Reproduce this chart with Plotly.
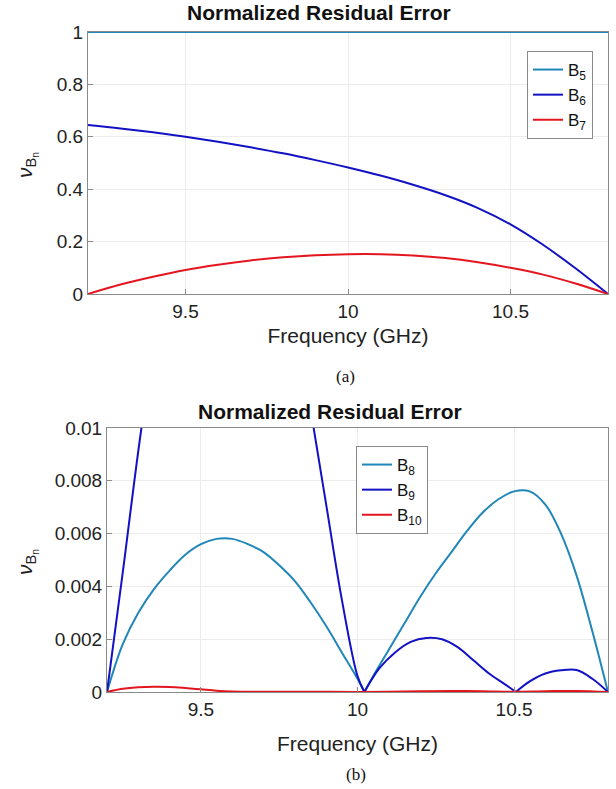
import plotly.graph_objects as go

# ---- data ----
# (a) top panel
freq_a = [9.2, 9.3, 9.4, 9.5, 9.6, 9.7, 9.8, 9.9, 10.0, 10.1, 10.2, 10.3, 10.4, 10.5, 10.6, 10.7, 10.8]
b5 = [1.0] * len(freq_a)
b6 = [0.645, 0.632, 0.617, 0.600, 0.581, 0.560, 0.537, 0.511, 0.483, 0.452, 0.417, 0.377, 0.328, 0.266, 0.188, 0.098, 0.0]
b7 = [0.0, 0.036, 0.066, 0.092, 0.112, 0.128, 0.140, 0.148, 0.152, 0.152, 0.147, 0.137, 0.121, 0.100, 0.074, 0.040, 0.0]

# (b) bottom panel
freq_b8 = [9.2, 9.25, 9.3, 9.35, 9.4, 9.45, 9.5, 9.55, 9.6, 9.65, 9.7, 9.75, 9.8, 9.85, 9.9, 9.95, 10.0, 10.022,
           10.05, 10.1, 10.15, 10.2, 10.25, 10.3, 10.35, 10.4, 10.45, 10.5, 10.55, 10.6, 10.65, 10.7, 10.75, 10.8]
b8 = [0.0, 0.0018, 0.0030, 0.0039, 0.0046, 0.0052, 0.0056, 0.0058, 0.0058, 0.0056, 0.0053, 0.0048, 0.0042, 0.0034, 0.0025, 0.0015, 0.0005, 0.0,
      0.0006, 0.0016, 0.0026, 0.0036, 0.0045, 0.0053, 0.0061, 0.0068, 0.0073, 0.0076, 0.0076, 0.0071, 0.0060, 0.0044, 0.0023, 0.0]

freq_b9 = [9.2, 9.25, 9.31, 9.4, 9.5, 9.6, 9.7, 9.8, 9.86, 9.9, 9.95, 10.0, 10.022,
           10.07, 10.12, 10.17, 10.22, 10.27, 10.32, 10.37, 10.42, 10.47, 10.506,
           10.55, 10.6, 10.65, 10.7, 10.75, 10.8]
b9 = [0.0, 0.0045, 0.0100, 0.0170, 0.0220, 0.0230, 0.0205, 0.0145, 0.0100, 0.0071, 0.0035, 0.0006, 0.0,
      0.0009, 0.0015, 0.0019, 0.00205, 0.0020, 0.0017, 0.0012, 0.0007, 0.0003, 0.0,
      0.0004, 0.0007, 0.00082, 0.00083, 0.0005, 0.0]

freq_b10 = [9.2, 9.25, 9.3, 9.35, 9.4, 9.45, 9.5, 9.55, 9.6, 9.7, 9.8, 9.9, 10.0, 10.1, 10.2, 10.3, 10.4, 10.5, 10.6, 10.7, 10.8]
b10 = [0.0, 0.00012, 0.00018, 0.0002, 0.00019, 0.00015, 0.0001, 0.00005, 0.00002, 0.00001, 0.00001, 0.00001, 0.0,
       0.00001, 0.00003, 0.00004, 0.00003, 0.00001, 0.00003, 0.00004, 0.0]

x_ticks = [9.5, 10, 10.5]
x_ticktext = ["9.5", "10", "10.5"]
ya_ticks = [0, 0.2, 0.4, 0.6, 0.8, 1]
ya_ticktext = ["0", "0.2", "0.4", "0.6", "0.8", "1"]
yb_ticks = [0, 0.002, 0.004, 0.006, 0.008, 0.01]
yb_ticktext = ["0", "0.002", "0.004", "0.006", "0.008", "0.01"]

C1 = "#2186b8"
C2 = "#1212c4"
C3 = "#e3161f"

W, H = 616, 789


def px_x(p):
    return p / W


def px_y(p):
    return 1 - p / H


def split_cusps(xs, ys):
    # break the line at interior zeros so the spline keeps sharp V-cusps
    xo, yo = [], []
    for i, (x, y) in enumerate(zip(xs, ys)):
        xo.append(x)
        yo.append(y)
        if 0 < i < len(xs) - 1 and y == 0 and ys[i - 1] > 0 and ys[i + 1] > 0:
            xo += [None, x]
            yo += [None, y]
    return xo, yo


fig = go.Figure()

series = [
    (freq_a, b5, "B<sub>5</sub>", C1, "x", "y", "legend"),
    (freq_a, b6, "B<sub>6</sub>", C2, "x", "y", "legend"),
    (freq_a, b7, "B<sub>7</sub>", C3, "x", "y", "legend"),
    (freq_b8, b8, "B<sub>8</sub>", C1, "x2", "y2", "legend2"),
    (freq_b9, b9, "B<sub>9</sub>", C2, "x2", "y2", "legend2"),
    (freq_b10, b10, "B<sub>10</sub>", C3, "x2", "y2", "legend2"),
]
for xs, ys, name, col, xa, ya, lg in series:
    sx, sy = split_cusps(xs, ys)
    fig.add_trace(go.Scatter(
        x=sx, y=sy, name=name, mode="lines", xaxis=xa, yaxis=ya, legend=lg,
        line=dict(color=col, width=2, shape="spline", smoothing=1.0),
        connectgaps=False,
    ))

axis_common = dict(
    showline=True, mirror=True, linecolor="#8a8a8a", linewidth=1,
    ticks="inside", ticklen=5, tickcolor="#8a8a8a",
    showgrid=True, gridcolor="#ececec", gridwidth=1, zeroline=False,
    tickfont=dict(family="Liberation Sans", size=19, color="#222222"),
    automargin=False,
)

fig.update_layout(
    width=W, height=H,
    margin=dict(l=0, r=0, t=0, b=0, pad=0, autoexpand=False),
    paper_bgcolor="white", plot_bgcolor="white",
    font=dict(family="Liberation Sans", color="#111111"),
    xaxis=dict(domain=[px_x(88), px_x(608)], anchor="y", range=[9.2, 10.8],
               tickvals=x_ticks, ticktext=x_ticktext,
               title=dict(text="Frequency (GHz)", font=dict(size=21, color="#222222"), standoff=7),
               **axis_common),
    yaxis=dict(domain=[px_y(294), px_y(32)], anchor="x", range=[0, 1],
               tickvals=ya_ticks, ticktext=ya_ticktext, **axis_common),
    xaxis2=dict(domain=[px_x(107), px_x(608)], anchor="y2", range=[9.2, 10.8],
                tickvals=x_ticks, ticktext=x_ticktext,
                title=dict(text="Frequency (GHz)", font=dict(size=21, color="#222222"), standoff=17),
                **axis_common),
    yaxis2=dict(domain=[px_y(692), px_y(428)], anchor="x2", range=[0, 0.01],
                tickvals=yb_ticks, ticktext=yb_ticktext, **axis_common),
    legend=dict(x=px_x(527), y=px_y(51), xanchor="left", yanchor="top",
                bgcolor="white", bordercolor="#8a8a8a", borderwidth=1,
                font=dict(size=17, color="#111111"), itemwidth=30, tracegroupgap=0),
    legend2=dict(x=px_x(356), y=px_y(446), xanchor="left", yanchor="top",
                 bgcolor="white", bordercolor="#8a8a8a", borderwidth=1,
                 font=dict(size=17, color="#111111"), itemwidth=30, tracegroupgap=0),
    showlegend=True,
)

annotations = [
    dict(text="<b>Normalized Residual Error</b>", x=px_x(319), y=px_y(13), xanchor="center", yanchor="middle",
         font=dict(size=21, color="#111111")),
    dict(text="<b>Normalized Residual Error</b>", x=px_x(330), y=px_y(412), xanchor="center", yanchor="middle",
         font=dict(size=21, color="#111111")),
    dict(text="<i>ν</i><sub>B<sub>n</sub></sub>", x=px_x(27), y=px_y(165), xanchor="center", yanchor="middle",
         textangle=-90, font=dict(size=21, color="#222222")),
    dict(text="<i>ν</i><sub>B<sub>n</sub></sub>", x=px_x(27), y=px_y(562), xanchor="center", yanchor="middle",
         textangle=-90, font=dict(size=21, color="#222222")),
    dict(text="(a)", x=px_x(345), y=px_y(376), xanchor="center", yanchor="middle",
         font=dict(family="Liberation Serif", size=17, color="#111111")),
    dict(text="(b)", x=px_x(356), y=px_y(774), xanchor="center", yanchor="middle",
         font=dict(family="Liberation Serif", size=17, color="#111111")),
]
for a in annotations:
    a.update(xref="paper", yref="paper", showarrow=False)
fig.update_layout(annotations=annotations)

# drop the browser's default body margin so the figure fills the window exactly
fig.write_html("out.html", config={"displayModeBar": False},
               post_script="document.body.style.margin='0';")
